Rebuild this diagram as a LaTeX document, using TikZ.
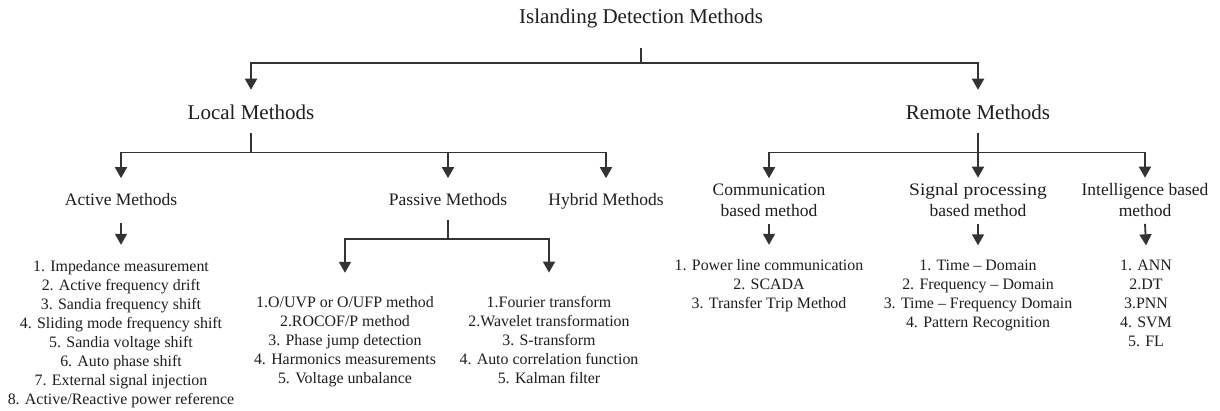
\documentclass[tikz,border=0pt]{standalone}
\usepackage{fontspec}
\setmainfont{Liberation Serif}
\usetikzlibrary{arrows.meta}
\definecolor{linec}{HTML}{333333}
\definecolor{txt}{HTML}{1E1E1E}
\begin{document}
\begin{tikzpicture}[x=1pt,y=-1pt,
  conn/.style={line width=1.8pt, draw=linec},
  arr/.style={conn, -{Triangle[width=12pt,length=11pt]}},
  lbl/.style={anchor=base, inner sep=0pt, text=txt},
  big/.style={lbl, font=\fontsize{21}{25}\selectfont},
  mid/.style={lbl, font=\fontsize{17.5}{21.5}\selectfont, align=center},
  lst/.style={lbl, font=\fontsize{15.9}{19}\selectfont, align=center}]
\useasboundingbox[fill=white] (0,0) rectangle (1220,410);

% nodes (multi-line nodes are placed by the baseline of their last line)
\node[big] (root) at (641,23) {Islanding Detection Methods};
\node[big] (local) at (251,119) {Local Methods};
\node[big] (remote) at (978,119) {Remote Methods};

\node[mid] (active) at (121,205) {Active Methods};
\node[mid] (passive) at (448,205) {Passive Methods};
\node[mid] (hybrid) at (606,205) {Hybrid Methods};
\node[mid] (comm) at (769,216.5) {Communication\\based method};
\node[mid] (signal) at (978,216.5) {\scalebox{1.11}[1]{Signal processing}\\based method};
\node[mid] (intel) at (1145,216.5) {Intelligence based\\method};

\node[lst] (actlist) at (121,404) {1. Impedance measurement\\2. Active frequency drift\\3. Sandia frequency shift\\4. Sliding mode frequency shift\\5. Sandia voltage shift\\6. Auto phase shift\\7. External signal injection\\8. Active/Reactive power reference};
\node[lst] (pas1) at (345,383) {1.O/UVP or O/UFP method\\2.ROCOF/P method\\3. Phase jump detection\\4. Harmonics measurements\\5. Voltage unbalance};
\node[lst] (pas2) at (549,383) {1.Fourier transform\\2.Wavelet transformation\\3. S-transform\\4. Auto correlation function\\5. Kalman filter};
\node[lst] (commlist) at (769,308) {1. Power line communication\\2. SCADA\\3. Transfer Trip Method};
\node[lst] (siglist) at (978,327) {1. Time -- Domain\\2. Frequency -- Domain\\3. Time -- Frequency Domain\\4. Pattern Recognition};
\node[lst] (intlist) at (1146,346) {1. ANN\\2.DT\\3.PNN\\4. SVM\\5. FL};

% connectors
\draw[conn] ([yshift=-20.4pt]root.south) -- ++(0,15) coordinate (rj);
\draw[arr] (rj) -| ([yshift=14.5pt]local.north);
\draw[arr] (rj) -| ([yshift=14.5pt]remote.north);

\draw[conn] ([yshift=-14pt]local.south) -- ++(0,19) coordinate (lj);
\draw[arr] (lj) -| ([yshift=14.5pt]active.north);
\draw[arr] (lj) -| ([yshift=14.5pt]passive.north);
\draw[arr] (lj) -| ([yshift=14.5pt]hybrid.north);

\draw[conn] ([yshift=-14pt]remote.south) -- ++(0,19) coordinate (rmj);
\draw[arr] (rmj) -| ([yshift=5pt]comm.north);
\draw[arr] (rmj) -| ([yshift=5pt]signal.north);
\draw[arr] (rmj) -| ([yshift=5pt]intel.north);

\draw[arr] ([yshift=-18pt]active.south) -- ([yshift=15pt]actlist.north);

\draw[conn] ([yshift=-15pt]passive.south) -- ++(0,19) coordinate (pj);
\draw[arr] (pj) -| ([yshift=23pt]pas1.north);
\draw[arr] (pj) -| ([yshift=23pt]pas2.north);

\draw[arr] ([yshift=-7pt]comm.south) -- ([yshift=14pt]commlist.north);
\draw[arr] ([yshift=-7pt]signal.south) -- ([yshift=14pt]siglist.north);
\draw[arr] ([yshift=-7pt]intel.south) -- ([yshift=14pt]intlist.north);
\end{tikzpicture}
\end{document}
